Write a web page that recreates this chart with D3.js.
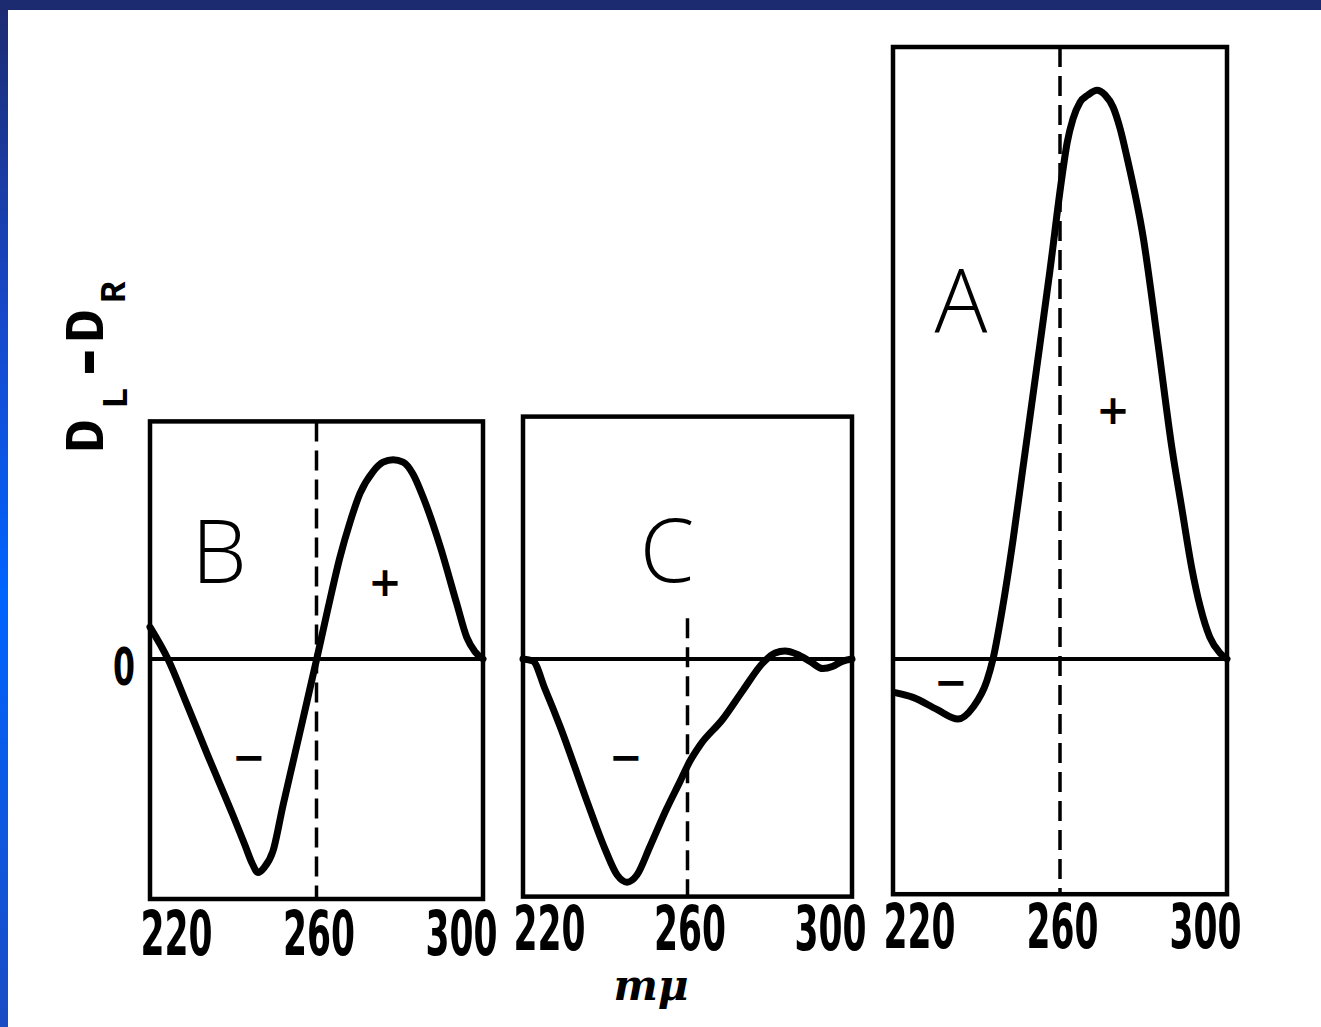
<!DOCTYPE html>
<html>
<head>
<meta charset="utf-8">
<script src="https://cdn.jsdelivr.net/npm/d3@7"></script>
<style>
  body { margin: 0; background: #fff; }
  svg { display: block; }
</style>
</head>
<body>
<div id="chart"></div>
<script>
// CD curves (D_L - D_R), wavelength in m\u03bc
const wlB  = [220, 224.3, 228.9, 233.6, 239.9, 242.8, 244.5, 245.95, 247.4, 249.55, 251.95, 254.35, 256.75, 260.05, 262.75, 265.65, 268.05, 270.45, 273.55, 276, 278.4, 280.8, 283.2, 285.6, 289.7, 293.7, 296.1, 298.1, 300];
const valB = [0.133, 0, -0.19, -0.39, -0.65, -0.775, -0.85, -0.89, -0.87, -0.80, -0.61, -0.43, -0.25, 0, 0.21, 0.425, 0.57, 0.69, 0.78, 0.82, 0.83, 0.82, 0.77, 0.675, 0.47, 0.23, 0.09, 0.03, 0];

const wlC  = [220, 222.4, 225.35, 229, 235.5, 239.9, 242.9, 245.3, 247.7, 250.9, 254.9, 258.2, 260.6, 263, 268.6, 273.5, 278.4, 281.3, 283.7, 286.6, 289.8, 292.9, 295.4, 297.6, 300];
const valC = [0, -0.008, -0.125, -0.28, -0.59, -0.79, -0.90, -0.93, -0.90, -0.78, -0.625, -0.51, -0.425, -0.36, -0.25, -0.13, -0.015, 0.025, 0.033, 0.02, -0.01, -0.04, -0.03, -0.01, 0];

const wlA  = [220.5, 224.8, 230.5, 235.6, 239.2, 242.5, 243.95, 246.35, 248.75, 251.15, 254.4, 257.6, 260.4, 261.7, 263.1, 264.8, 266.7, 268.85, 270.8, 272.7, 274.4, 276.05, 279.9, 283.5, 286.8, 289.15, 291.55, 293.55, 295.9, 298.3, 300];
const valA = [-0.14, -0.16, -0.21, -0.25, -0.20, -0.09, 0, 0.225, 0.496, 0.80, 1.21, 1.62, 2.00, 2.15, 2.25, 2.32, 2.35, 2.37, 2.35, 2.30, 2.21, 2.09, 1.76, 1.31, 0.88, 0.63, 0.38, 0.22, 0.09, 0.025, 0];

const tickValues = [220, 260, 300];
const panelNames = ["B", "C", "A"];

// layout of the three boxes
const panels = [
  { name: "B", wl: wlB, val: valB, x0: 150, x1: 483, top: 0.99, bottom: -1.0, dashTop: 0.99, base: 955,
    letter: [219, 583], plus: [385, 582], minus: [249, 757] },
  { name: "C", wl: wlC, val: valC, x0: 523, x1: 852, top: 1.01, bottom: -0.99, dashTop: 0.17, base: 950,
    letter: [667, 582], plus: null, minus: [626, 757] },
  { name: "A", wl: wlA, val: valA, x0: 893, x1: 1227, top: 2.55, bottom: -0.98, dashTop: 2.55, base: 948,
    letter: [961, 332], plus: [1113, 410], minus: [951, 682] }
];

const W = 1321, H = 1027;
const svg = d3.select("#chart").append("svg")
  .attr("width", W)
  .attr("height", H);

// slide background with blue edges
const defs = svg.append("defs");
const grad = defs.append("linearGradient")
  .attr("id", "edge")
  .attr("x1", 0).attr("y1", 0).attr("x2", 0).attr("y2", 1);
grad.append("stop").attr("offset", "0").attr("stop-color", "#1c2a70");
grad.append("stop").attr("offset", "0.3").attr("stop-color", "#1848c8");
grad.append("stop").attr("offset", "0.58").attr("stop-color", "#0064ff");
grad.append("stop").attr("offset", "1").attr("stop-color", "#1a4cc4");

svg.append("rect").attr("width", W).attr("height", H).attr("fill", "#fff");
svg.append("rect").attr("x", 0).attr("y", 0).attr("width", 8).attr("height", H).attr("fill", "url(#edge)");
svg.append("rect").attr("x", 0).attr("y", 0).attr("width", W).attr("height", 10).attr("fill", "#1c2a70");

// shared vertical scale
const y = d3.scaleLinear().domain([-1, 2.5]).range([899, 59]);

panels.forEach(p => {
  const x = d3.scaleLinear().domain([220, 300]).range([p.x0, p.x1]);
  const g = svg.append("g");

  // frame
  g.append("rect")
    .attr("x", x(220))
    .attr("y", y(p.top))
    .attr("width", x(300) - x(220))
    .attr("height", y(p.bottom) - y(p.top))
    .attr("fill", "none")
    .attr("stroke", "#000")
    .attr("stroke-width", 4.5);

  // zero line
  g.append("line")
    .attr("x1", x(220)).attr("x2", x(300) + 3)
    .attr("y1", y(0)).attr("y2", y(0))
    .attr("stroke", "#000")
    .attr("stroke-width", 4);

  // dashed marker at 260
  g.append("line")
    .attr("x1", x(260)).attr("x2", x(260))
    .attr("y1", y(p.dashTop)).attr("y2", y(p.bottom))
    .attr("stroke", "#000")
    .attr("stroke-width", 3.5)
    .attr("stroke-dasharray", "20,9");

  // curve
  const pts = p.wl.map((w, i) => [w, p.val[i]]);
  const line = d3.line()
    .x(d => x(d[0]))
    .y(d => y(d[1]))
    .curve(d3.curveMonotoneX);
  g.append("path")
    .datum(pts)
    .attr("d", line)
    .attr("fill", "none")
    .attr("stroke", "#000")
    .attr("stroke-width", 7)
    .attr("stroke-linecap", "round")
    .attr("stroke-linejoin", "round");

  // axis labels (narrow, squeezed digits)
  const axis = g.append("g")
    .attr("transform", `translate(0,${p.base})`)
    .call(d3.axisBottom(x).tickValues(tickValues).tickSize(0).tickPadding(0));
  axis.select(".domain").remove();
  axis.selectAll("text")
    .attr("font-family", "'DejaVu Sans Condensed', 'DejaVu Sans', sans-serif")
    .attr("font-weight", "bold")
    .attr("font-size", 62)
    .attr("fill", "#000")
    .attr("y", 0)
    .attr("dy", 0)
    .each(function(d) {
      const len = this.getComputedTextLength() || 100;
      const s = 72 / len;
      const dx = d === 220 ? 26 : d === 300 ? -22 : 2;
      d3.select(this).attr("transform", `translate(${dx},0) scale(${s},1)`);
    });

  // panel letter
  g.append("text")
    .attr("x", p.letter[0]).attr("y", p.letter[1])
    .attr("text-anchor", "middle")
    .attr("font-family", "'Open Sans', sans-serif")
    .attr("font-weight", 300)
    .attr("font-size", 88)
    .text(p.name);

  if (p.plus) {
    g.append("text")
      .attr("x", p.plus[0]).attr("y", p.plus[1])
      .attr("text-anchor", "middle")
      .attr("dominant-baseline", "central")
      .attr("font-family", "'DejaVu Sans', sans-serif")
      .attr("font-weight", "bold")
      .attr("font-size", 40)
      .text("+");
  }
  g.append("text")
    .attr("x", p.minus[0]).attr("y", p.minus[1])
    .attr("text-anchor", "middle")
    .attr("dominant-baseline", "central")
    .attr("font-family", "'DejaVu Sans', sans-serif")
    .attr("font-weight", "bold")
    .attr("font-size", 40)
    .text("\u2212");
});

// zero label
svg.append("text")
  .attr("x", 124).attr("y", 685)
  .attr("text-anchor", "middle")
  .attr("font-family", "'DejaVu Sans Condensed', sans-serif")
  .attr("font-weight", "bold")
  .attr("font-size", 52)
  .attr("textLength", 22)
  .attr("lengthAdjust", "spacingAndGlyphs")
  .text("0");

// y label  D_L - D_R
const yl = svg.append("text")
  .attr("transform", "translate(103,453) rotate(-90)")
  .attr("font-family", "'Liberation Mono', 'DejaVu Sans Mono', monospace")
  .attr("font-weight", "bold")
  .attr("font-size", 56);
yl.append("tspan").attr("x", 0).attr("y", 0).text("D");
yl.append("tspan").attr("x", 44).attr("y", 24).attr("font-size", 36).text("L");
yl.append("tspan").attr("x", 68).attr("y", 6).attr("font-size", 76).text("-");
yl.append("tspan").attr("x", 110).attr("y", 0).text("D");
yl.append("tspan").attr("x", 150).attr("y", 22).attr("font-size", 36).text("R");

// x unit
svg.append("text")
  .attr("x", 651).attr("y", 1000)
  .attr("text-anchor", "middle")
  .attr("font-family", "'DejaVu Serif', serif")
  .attr("font-style", "italic")
  .attr("font-weight", "bold")
  .attr("font-size", 42)
  .text("m\u03bc");
</script>
</body>
</html>
